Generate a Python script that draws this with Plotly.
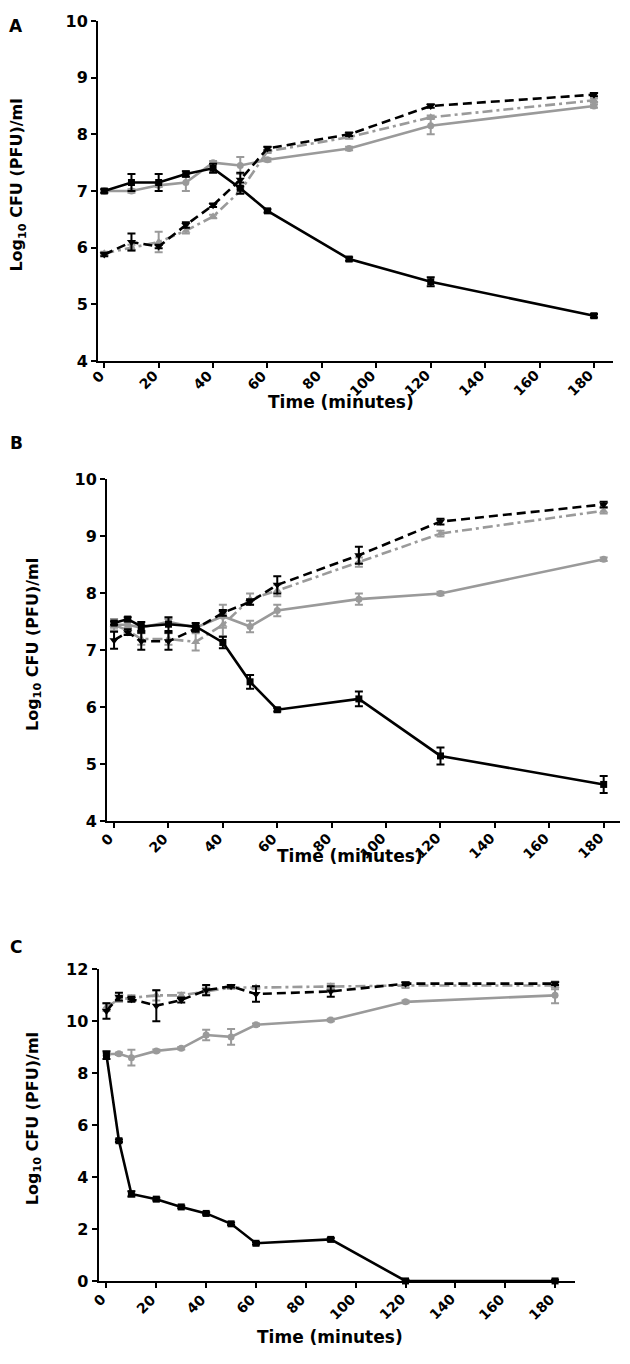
import plotly.graph_objects as go

# ---------------- data ----------------
time_A = [0, 10, 20, 30, 40, 50, 60, 90, 120, 180]
A_sq = [7.0, 7.15, 7.15, 7.3, 7.4, 7.05, 6.65, 5.8, 5.4, 4.8]
A_sq_err = [0.03, 0.15, 0.15, 0.05, 0.08, 0.1, 0.03, 0.03, 0.08, 0.03]
A_circ = [7.0, 7.0, 7.1, 7.15, 7.5, 7.45, 7.55, 7.75, 8.15, 8.5]
A_circ_err = [0.03, 0.03, 0.03, 0.15, 0.03, 0.15, 0.03, 0.03, 0.15, 0.03]
A_up = [5.9, 6.0, 6.1, 6.3, 6.55, 7.0, 7.7, 7.95, 8.3, 8.6]
A_up_err = [0.03, 0.05, 0.18, 0.05, 0.03, 0.03, 0.03, 0.03, 0.03, 0.03]
A_down = [5.88, 6.1, 6.02, 6.4, 6.75, 7.2, 7.75, 8.0, 8.5, 8.7]
A_down_err = [0.03, 0.15, 0.03, 0.05, 0.03, 0.12, 0.03, 0.03, 0.03, 0.03]

time_B = [0, 5, 10, 20, 30, 40, 50, 60, 90, 120, 180]
B_sq = [7.48, 7.55, 7.42, 7.46, 7.42, 7.14, 6.45, 5.96, 6.15, 5.15, 4.65]
B_sq_err = [0.03, 0.03, 0.08, 0.12, 0.06, 0.1, 0.12, 0.03, 0.13, 0.15, 0.15]
B_circ = [7.45, 7.45, 7.4, 7.5, 7.4, 7.6, 7.42, 7.7, 7.9, 8.0, 8.6]
B_circ_err = [0.05, 0.05, 0.05, 0.05, 0.05, 0.2, 0.1, 0.1, 0.1, 0.03, 0.03]
B_up = [7.45, 7.35, 7.2, 7.2, 7.15, 7.45, 7.9, 8.05, 8.55, 9.05, 9.45]
B_up_err = [0.1, 0.05, 0.1, 0.1, 0.15, 0.2, 0.1, 0.1, 0.08, 0.05, 0.05]
B_down = [7.18, 7.32, 7.16, 7.16, 7.38, 7.66, 7.85, 8.15, 8.67, 9.26, 9.56]
B_down_err = [0.15, 0.05, 0.15, 0.15, 0.05, 0.05, 0.05, 0.15, 0.15, 0.05, 0.05]

time_C = [0, 5, 10, 20, 30, 40, 50, 60, 90, 120, 180]
C_sq = [8.7, 5.4, 3.35, 3.15, 2.85, 2.6, 2.2, 1.45, 1.6, 0.0, 0.0]
C_sq_err = [0.15, 0.05, 0.1, 0.05, 0.05, 0.05, 0.05, 0.05, 0.05, 0.05, 0.05]
C_circ = [8.73, 8.75, 8.6, 8.86, 8.96, 9.47, 9.4, 9.87, 10.05, 10.75, 11.0]
C_circ_err = [0.05, 0.05, 0.3, 0.05, 0.05, 0.2, 0.3, 0.05, 0.05, 0.05, 0.3]
C_up = [10.55, 10.85, 10.9, 11.0, 11.0, 11.15, 11.3, 11.3, 11.35, 11.38, 11.38]
C_up_err = [0.15, 0.1, 0.1, 0.2, 0.1, 0.15, 0.05, 0.05, 0.1, 0.1, 0.15]
C_down = [10.4, 10.95, 10.85, 10.6, 10.82, 11.2, 11.35, 11.05, 11.15, 11.45, 11.45]
C_down_err = [0.3, 0.15, 0.1, 0.6, 0.1, 0.2, 0.05, 0.3, 0.2, 0.05, 0.05]

x_ticks = [0, 20, 40, 60, 80, 100, 120, 140, 160, 180]
x_tick_labels = ["0", "20", "40", "60", "80", "100", "120", "140", "160", "180"]
y_ticks_AB = [4, 5, 6, 7, 8, 9, 10]
y_ticks_C = [0, 2, 4, 6, 8, 10, 12]
panel_letters = ["A", "B", "C"]
y_title = "<b>Log<sub>10</sub> CFU (PFU)/ml</b>"
x_title = "<b>Time (minutes)</b>"

# ---------------- styling ----------------
VW, VH = 630, 1364          # browser viewport
M = 8                       # default page margin around the plot div
W, H = VW - 2 * M, VH - 2 * M
GRAY = "#9a9a9a"
BLACK = "#000000"
FONT = "DejaVu Sans"


def fx(px):
    """viewport x pixel -> paper fraction"""
    return (px - M) / W


def fy(py):
    """viewport y pixel -> paper fraction"""
    return 1 - (py - M) / H


fig = go.Figure()


def add_panel(idx, t, sq, sqe, ci, cie, up, upe, dn, dne):
    xa = "x" if idx == 1 else f"x{idx}"
    ya = "y" if idx == 1 else f"y{idx}"
    specs = [
        (ci, cie, GRAY, "solid", "circle", 7),
        (up, upe, GRAY, "10px,4px,3px,4px", "triangle-up", 8),
        (dn, dne, BLACK, "9px,5px", "triangle-down", 8),
        (sq, sqe, BLACK, "solid", "square", 7),
    ]
    for vals, errs, col, dash, sym, ms in specs:
        fig.add_trace(go.Scatter(
            x=t, y=vals, xaxis=xa, yaxis=ya, mode="lines+markers",
            line=dict(color=col, width=2.6, dash=dash),
            marker=dict(symbol=sym, size=ms, color=col),
            error_y=dict(type="data", array=errs, visible=True, color=col,
                         thickness=2, width=4),
            cliponaxis=False, showlegend=False, hoverinfo="skip",
        ))


add_panel(1, time_A, A_sq, A_sq_err, A_circ, A_circ_err, A_up, A_up_err, A_down, A_down_err)
add_panel(2, time_B, B_sq, B_sq_err, B_circ, B_circ_err, B_up, B_up_err, B_down, B_down_err)
add_panel(3, time_C, C_sq, C_sq_err, C_circ, C_circ_err, C_up, C_up_err, C_down, C_down_err)

tickfont = dict(family=FONT, size=16, color="black", weight="bold")


def xaxis(px0, px1, rng, anchor):
    return dict(domain=[fx(px0), fx(px1)], range=rng, anchor=anchor,
                tickvals=x_ticks, showticklabels=False,
                showline=True, linecolor="black", linewidth=2, ticks="outside",
                ticklen=5, tickwidth=2, tickcolor="black", showgrid=False,
                zeroline=False)


def yaxis(py_top, py_bot, rng, tv, anchor):
    return dict(domain=[fy(py_bot), fy(py_top)], range=rng, anchor=anchor,
                tickvals=tv, tickfont=tickfont,
                showline=True, linecolor="black", linewidth=2, ticks="outside",
                ticklen=5, tickwidth=2, tickcolor="black", showgrid=False,
                zeroline=False)


# panel geometry (viewport pixels)
geo = {
    1: dict(x0=98, x1=613, y0=12, y1=357, xr=[-2.3, 187], yr=[4, 10], tv=y_ticks_AB, lab=5),
    2: dict(x0=107, x1=620, y0=477, y1=824, xr=[-2.6, 186], yr=[4, 10], tv=y_ticks_AB, lab=7),
    3: dict(x0=98.5, x1=575, y0=974, y1=1290, xr=[-3.2, 188], yr=[0, 12], tv=y_ticks_C, lab=9),
}

layout = dict(width=W, height=H, margin=dict(l=0, r=0, t=0, b=0),
              plot_bgcolor="white", paper_bgcolor="white", showlegend=False)
for i, g in geo.items():
    xk = "xaxis" if i == 1 else f"xaxis{i}"
    yk = "yaxis" if i == 1 else f"yaxis{i}"
    layout[xk] = xaxis(g["x0"], g["x1"], g["xr"], "y" if i == 1 else f"y{i}")
    layout[yk] = yaxis(g["y0"], g["y1"], g["yr"], g["tv"], "x" if i == 1 else f"x{i}")
fig.update_layout(**layout)

annots = []
# rotated x tick labels, anchored at each tick through the x axis scale
for i, g in geo.items():
    xr = "x" if i == 1 else f"x{i}"
    for tv, tl in zip(x_ticks, x_tick_labels):
        annots.append(dict(text=f"<b>{tl}</b>", x=tv, xref=xr,
                           y=fy(g["y1"] + g["lab"]), yref="paper",
                           showarrow=False, textangle=-45, borderpad=0,
                           xanchor="right", yanchor="top", xshift=4,
                           font=dict(family=FONT, size=14, color="black")))

letter_pos = [(16, 17), (16, 440), (16, 951)]
for letter, (lx, ly) in zip(panel_letters, letter_pos):
    annots.append(dict(text=f"<b>{letter}</b>", x=fx(lx), y=fy(ly), xref="paper", yref="paper",
                       showarrow=False, font=dict(family=FONT, size=17, color="black"),
                       xanchor="center", yanchor="middle"))
ytitle_pos = [(18, 179), (33, 645), (33, 1126)]
for (tx, ty) in ytitle_pos:
    annots.append(dict(text=y_title, x=fx(tx), y=fy(ty), xref="paper", yref="paper",
                       showarrow=False, textangle=-90,
                       font=dict(family=FONT, size=16, color="black"),
                       xanchor="center", yanchor="middle"))
xtitle_pos = [(341, 398), (350, 859), (330, 1347)]
for (tx, ty) in xtitle_pos:
    annots.append(dict(text=x_title, x=fx(tx), y=fy(ty), xref="paper", yref="paper",
                       showarrow=False, font=dict(family=FONT, size=17, color="black"),
                       xanchor="center", yanchor="middle"))
fig.update_layout(annotations=annots)

fig.write_html("out.html")
